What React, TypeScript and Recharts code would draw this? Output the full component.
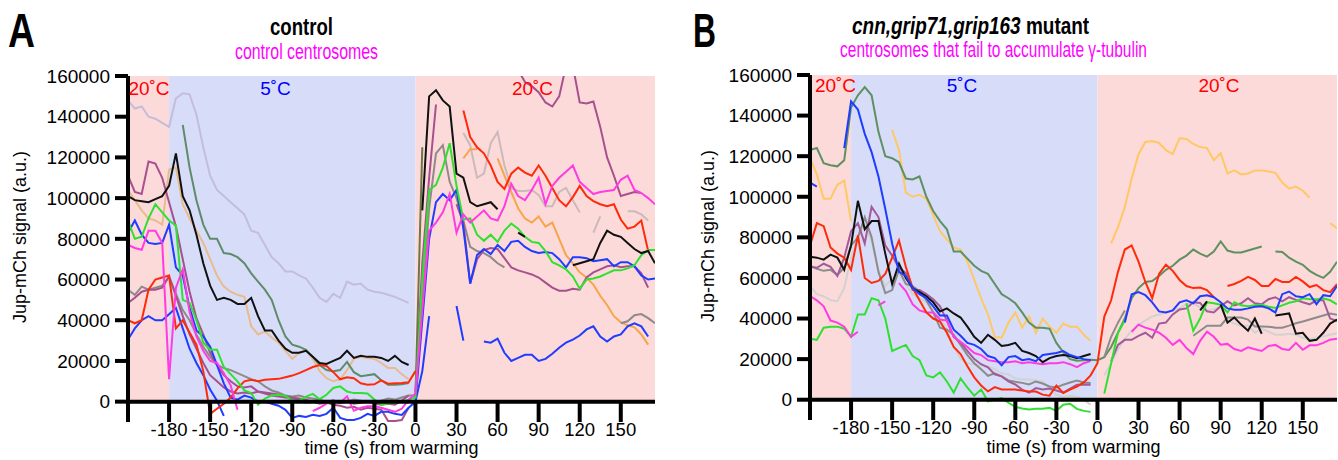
import React from 'react';
import { LineChart, Line, XAxis, YAxis, ReferenceArea, ReferenceLine } from 'recharts';

const STEP = 5;
const X_TICKS = [-180, -150, -120, -90, -60, -30, 0, 30, 60, 90, 120, 150];
const Y_TICKS = [0, 20000, 40000, 60000, 80000, 100000, 120000, 140000, 160000];
const X_DOMAIN = [-210, 175];
const Y_DOMAIN = [-10000, 160000];
const PERIODS = [
  { x1: -210, x2: -180, kind: 'warm' },
  { x1: -180, x2: 0, kind: 'cold' },
  { x1: 0, x2: 175, kind: 'warm' },
];

// ---------- Panel A (control) : values every 5 s ----------
const A_lavender = [148000,144000,145000,140000,139000,137000,135000,149000,151500,151000,141000,125000,111000,104000,101000,98000,95000,92000,84000,83000,77000,71000,68000,64000,64000,62000,60500,56000,51000,49000,53000,51000,59000,57500,58000,55000,54000,53500,52500,51500,50000,48500];
const A_blackPre = [101000,99000,98500,98000,99500,101000,106000,122000,101000,94000,82000,68000,57000,50000,51000,50000,48000,48000,51000,42000,35000,35000,30000,26000,24000,24000,25000,22000,19000,18500,20000,21500,25000,21500,22500,22000,22000,21500,20000,22500,19500,18000];
const A_blackPost = [94000,150000,153000,148000,145000,112000,110000,98000,96000,97000,98000,94500,null,null,83000,81000,null,null,null,null,null,null,67000,68000,69000,70000,78000,84000,82000,81000,78000,75000,73000,74000,68000];
const A_darkgreen = [136000,115000,99000,87000,80000,80000,73000,72500,71000,68000,63000,59000,55000,50000,40000,32000,28000,27000,25500,22000,18000,15500,15000,15500,19500,14500,12500,13000,13500,10500,8300,8300,8500,9200];
const A_tan = [104000,99000,94000,90000,89000,87000,114000,115000,97000,90000,84000,78000,70000,62000,56500,54000,52500,51500,37000,33000,34500,31500,29000,25000,21000,24000,25500,21000,15000,11500,10000,11000,15500,21000,22000,21500,21000,19000,16500,16500,13500,11000];
const A_mauve1 = [111000,103000,102000,118000,117000,110000,98000,86000,70000,54000,41000,33000,24000,18000,13000,10000,7500,7000,7500,5000,4500,4000,3500,2500,2000,1500,1000,0,-500,0,500,-500,0,-1000,-500,0,-1000,-1500,-1000,-1500,500,3000];
const A_mauve2 = [48500,51000,54000,55000,55000,56000,61500,52000,42000,33000,26000,19000,13000,10000,7000,5000,4000,4500,4000,5000,4000,3000,2500,2000,1500,1000,-500,0,-1000,-500,-1500,-2000,-3000,-2500,-4000,-3000,-3500,-4000,-9500,-9500,-9000,-3000];
const A_mauveRise = [5000,68000,110000,146000];
const A_mauveTop = [163000,157000,155000,152000,147000,145000,150000,165000,165000,147000,146500,147500,135000,120000,111000,101000,102000,103000,102500];
const A_mauveLow = [97000,88000,58000,70000,74500,75500,75000,70500,66000,64500,63500,62500,61000,58500,56000,54500,54500,55500,55000,61000,63500,65000,66500,67000,66000,66500,66500,63000,56000];
const A_grayPre = [55000,52500,56500,55000,56000,57000,61500,53000,45000,40000,33000,27000,22000,18000,16500,15500,14000,12500,11000,10000,7500,5500,4500,3000,2500,3000,2000,1500,1000,0,500,-500,0,1000,500,0,-500,500,1500,1000,2000,3000];
const A_grayPost = [3000,50000,95000,122000,126000,108000,100000,89000,76000,74000,73000,71000,68000,66000,null,null,null,null,null,null,null,null,null,null,null,null,null,null,null,null,38500,39500,42500,43000,41000,38500];
const A_greenPre = [89000,80000,81000,90000,97000,93000,89000,86500,50000,48500,40000,29000,25500,25500,17000,13500,10000,5500,4200,-1500,1500,3000,3400,2800,500,500,2500,3800,1200,3400,6700,7500,5000,4200,4200,4000,1000,-1500,-900,-500,0,1000];
const A_greenPost = [2000,60000,104000,106500,115000,127000,106000,89500,90000,82000,79000,82000,78500,84000,87500,85000,81000,78500,78000,74000,68500,67000,65000,61500,55500,60000,60500,61500,63000,64500,64500,65500,67000,72000,74500,74500];
const A_blueUpPre = [83000,89000,82000,78000,77500,78000,87000,66000,62000,46000,35000,32000,27000,18000,9000,2000,1000,3000,2000,0,0,-1000,-2000,-4000,-8000,-7000,-7500,-6500,-7000,-6000,-3000,-8000,-9000,-9000,-8000,-6000,-7000,-5000,-5000,-6000,-6500,-3000];
const A_blueUpPost = [0,40000,80000,98000,102000,99000,104000,85000,58000,72000,75000,72500,77000,74000,78500,79000,76000,74000,73000,73500,73000,70000,66000,71000,71000,70500,69000,69500,70000,66500,68500,68500,66500,62000,60000,60500];
const A_blueLowPre = [30500,36000,40000,42000,40000,40000,43000,46000,36000,26000,19000,13000,6000,500,-7000];
const A_blueLowPost = [0,15000,42000,null,null,null,47000,30000,null,null,29500,29000,31000,24000,20000,21500,23000,23000,20000,21000,23500,26500,29000,30500,32500,35500,37000,32000,29500,32000,33000,37000,38500,37000,32000];
const A_redPre = [40000,38500,40000,55000,60000,61000,62000,36000,40000,34000,28000,15000,-6000,-3500,-1000,2000,6500,10000,10800,10000,10800,11000,11200,12000,12800,14000,15500,17000,18000,17500,14500,11000,12000,11500,9000,8300,8500,10500,8800,9000,9200,9500,15000];
const A_redPost = [143000,130000,125000,122000,116000,108000,104500,112000,115000,112500,111000,116000,111000,105000,99000,96000,100500,106000,101000,98500,97000,96000,97000,89500,85000,86000,89000,74000];
const A_magentaPre = [77000,75500,74600,84000,84000,78000,11000,56000,65000,44000,32000,25000,20000,19000,14000,8000,-4000,null,null,null,null,null,null,null,null,null,null,-4700,-3000,-1000,500,-500,2600,-4500,-3000,-2300,-2300,-3000,-4000,-5000,-3500,1000];
const A_magentaPost = [4000,45000,84000,88000,93000,102000,83000,92000,88000,91000,94000,90000,89000,96000,107000,101000,99000,104000,110000,97000,106000,110000,113000,116000,108000,105000,102000,103000,103500,104000,109000,111000,104000,102500,100000,97000];
const A_lightPink = [132000,126000,110000,112000,127000,132500,116000,105000,103500,103500,104000,101500,96000,96000,103000,105000,99000,93000,null,83000,91000,null,null,null,93500,93500,92000,89000];
const A_orange = [119500,124000,124000,null,null,119500,111000,103000,95000,90000,88000,91000,86000,88000,80000,72000,68000,63500,61000,57500,52000,47500,42000,39000,37500,36500,33000,28000];
const A_olive = [2000,125000];

// ---------- Panel B (cnn,grip71,grip163 mutant) ----------
const B_darkgreenPre = [123000,124000,116500,115500,115000,118000,144000,150000,154000,150000,132000,120000,119000,117000,109000,108500,110000,100000,93000,88000,84000,73000,73000,69500,66000,63500,62000,57000,52000,50000,47500,43000,38000,35500,35500,35000,28000,23500,20000,19200,19500,19700];
const B_darkgreenPost = [19500,21000,26000,33000,40000,50000,55000,58000,58500,61000,64000,66000,69000,71000,74000,72000,70500,73000,78000,73500,72500,72500,73500,74500,75500,null,73000,72800,70000,68000,66500,63500,61500,60000,63000,68000];
const B_yellowPre = [119000,111000,99000,99000,106000,108000,88000,null,null,null,null,null,133000,123000,102000,100000,101000,99000,91000,83000,79000,75000,74000,68000,59000,50000,42000,31000,30500,38000,43000,35500,41000,33000,40000,36000,33000,37500,36000,36000,32000,29000];
const B_yellowPost = [77000,85000,95000,109000,121000,127000,127500,126500,123000,121000,128800,128500,126000,124500,124000,118000,121500,111500,113000,111000,111500,113000,113000,112500,111800,107000,104000,105000,103000,99500,null,null,87000,84500];
const B_bluePre = [107000,105000,null,null,null,124000,147000,143000,131000,122000,110000,94000,77000,63000,61000,55000,52000,50000,46000,41500,41500,34500,31500,28000,27000,25000,21500,20500,17000,21000,21500,19500,20000,19000,22000,22500,23000,24000,22000,21000,20000,19500];
const B_bluePost = [38000,52000,53000,51500,48000,43500,43000,44000,48000,49000,47500,51000,51500,50500,48000,45000,44300,44300,45000,45800,46000,45000,43000,52000,53300,51000,50500,52000,47000,51500,51000,56000];
const B_blackPre = [70500,70000,69000,71500,70000,64000,76000,98000,84000,88000,88000,72000,57000,67000,60000,55000,53000,51000,48000,43500,45000,42500,40500,36000,31000,28000,32000,29500,26500,27000,28000,24000,23000,21500,18500,20500,21500,22000,21500,20500,21500,22500];
const B_blackPost = [44000,48500,null,47000,38000,40500,37000,34000,40000,32500,null,41500,42000,42500,32500,33000,29000,29500,33000,37500,39500];
const B_redPre = [76000,87000,85500,75000,72000,70000,64000,81000,60000,57500,58500,62000,70000,78500,65500,55000,49000,43000,40000,38500,33000,26000,22500,16500,11000,7000,4100,6200,5000,5000,5000,4500,4100,4000,2500,2000,7000,3300,5000,6500,8500,12000];
const B_redPost = [18000,41000,49000,63000,74000,76000,68000,58000,50000,62000,66500,63500,59000,56000,55000,55300,54000,50500,null,56000,57000,58500,60500,59000,56000,56000,59500,58000,58000,60500,58300,55500,56500,54000,53000,57000];
const B_magentaPre = [51000,49000,46000,39000,38000,36000,31000,33500,null,null,46500,48500,null,57400,53500,47000,44000,43000,43000,39500,39000,31000,28500,26000,23000,22000,19500,18900,18500,18500,18900,18000,18500,18000,17500,18000,18000,18500,17500,16000,18000,19000];
const B_magentaPost = [33500,37000,35500,34500,33000,30500,27000,29500,25500,22500,29000,33500,31000,27100,27500,25000,24000,25800,24900,24000,26500,27000,25000,24500,28000,24600,26800,26800,28000,29600,30000];
const B_greenPre = [30000,29500,35500,36000,36000,35000,31000,42000,42000,50000,49000,40000,24000,25500,27000,21500,19500,12000,11000,13500,9000,3500,10500,6000,2000,5000,-800,0,800,-1500,-3500,-4300,-4800,-4500,-4500,-4000,-5500,-2500,-2000,-4500,-5500,-6000];
const B_greenPost = [null,3000,18000,33000,39000,null,null,null,null,null,null,null,null,47500,34000,40000,48000,47500,46800,43000,48000,46500,46000,46500,46800,45800,45200,46500,47800,48500,50000,49500,49500,50000,49000,47000];
const B_mauvePre = [65500,65000,67000,65500,61000,70000,83000,87000,77000,95000,90000,76000,71000,65000,62500,54000,54000,52000,49500,46000,39000,31000,28000,24000,20000,17500,16000,12500,11500,9000,7500,5000,3500,5700,5000,5500,4500,3500,5500,7400,7500,7400];
const B_mauvePost = [null,null,19000,27000,29500,29500,31500,33000,30500,37500,38000,42000,44500,45000,48000,47700,43500,43000,46000,48500,46500,47500,50000,47500,47000,49500,50500,48500,50500,49200,48000,47000,49000,49000,40000,38800];
const B_grayPre = [66000,64500,63500,64000,61500,65000,76000,80000,90000,80000,63000,52500,54000,64000,57000,56000,53500,49000,43000,35500,34500,32000,27000,22000,18000,15000,11800,13000,11500,9500,8800,8300,7500,9000,8000,6500,6000,7400,8500,9500,8500,8200];
const B_grayPost = [null,21000,31000,38000,44000,null,null,null,null,null,null,null,null,null,31500,34000,36500,36500,36500,40500,40500,40500,39500,36100,36100,36000,35500,35500,36500,37700,38500,39500,40500,41500,42500,41800];
const B_lightgrayPre = [56000,52000,51000,49000,48500,55000,70000,80000,86000,78000,64000,56000,60000,62000,57000,52000,50000,48000,44000,40000,35000,26000,20000,18000,17500,17000,16500,15000,13000,12500,10500,10000,10000,9500,9000,5000,2500,1500,2000,1500,0,-2500];
const B_lightgrayPost = [null,12000,18000,25000,30000,34000,37000,39000,41000,42000,43000,44000,45000,47000,47500,45500,44000,44500,46000,39000,37500,36500,36500,33000,35000,33500,32000,32000,32500,32000,30500,29800,30500,31200,32000,32800];

const COL = {
  black: '#111111',
  lavender: '#c4bdd9',
  darkgreen: '#5e8b6a',
  darkgreenB: '#5f9060',
  tan: '#e9bb8c',
  orange: '#f7a54c',
  yellow: '#ffc864',
  red: '#ff2a0a',
  green: '#30e030',
  blue: '#1f3cff',
  magenta: '#ff3be2',
  mauve: '#a8508e',
  mauveB: '#a35a9a',
  gray: '#8f8a8a',
  grayB: '#8c8c8c',
  lightPink: '#ccb9ba',
  lightgray: '#d2d2d2',
  olive: '#6f7548',
};

type Series = { name: string; color: string; start: number; values: (number | null)[] };

const A_SERIES: Series[] = [
  { name: 'a-lavender', color: COL.lavender, start: -210, values: A_lavender },
  { name: 'a-lightpink', color: COL.lightPink, start: 35, values: A_lightPink },
  { name: 'a-tan', color: COL.tan, start: -210, values: A_tan },
  { name: 'a-orange', color: COL.orange, start: 35, values: A_orange },
  { name: 'a-darkgreen', color: COL.darkgreen, start: -170, values: A_darkgreen },
  { name: 'a-gray', color: COL.gray, start: -210, values: [...A_grayPre, ...A_grayPost] },
  { name: 'a-mauve2', color: COL.mauve, start: -210, values: A_mauve2 },
  { name: 'a-mauve1', color: COL.mauve, start: -210, values: A_mauve1 },
  { name: 'a-mauverise', color: COL.mauve, start: 0, values: A_mauveRise },
  { name: 'a-mauvetop', color: COL.mauve, start: 75, values: A_mauveTop },
  { name: 'a-mauvelow', color: COL.mauve, start: 30, values: A_mauveLow },
  { name: 'a-olive', color: COL.olive, start: 0, values: A_olive },
  { name: 'a-bluelow', color: COL.blue, start: -210, values: A_blueLowPre },
  { name: 'a-bluelowpost', color: COL.blue, start: 0, values: A_blueLowPost },
  { name: 'a-blueup', color: COL.blue, start: -210, values: [...A_blueUpPre, ...A_blueUpPost] },
  { name: 'a-red', color: COL.red, start: -210, values: A_redPre },
  { name: 'a-redpost', color: COL.red, start: 35, values: A_redPost },
  { name: 'a-green', color: COL.green, start: -210, values: [...A_greenPre, ...A_greenPost] },
  { name: 'a-magenta', color: COL.magenta, start: -210, values: [...A_magentaPre, ...A_magentaPost] },
  { name: 'a-black', color: COL.black, start: -210, values: A_blackPre },
  { name: 'a-blackpost', color: COL.black, start: 5, values: A_blackPost },
];

const B_SERIES: Series[] = [
  { name: 'b-lightgray', color: COL.lightgray, start: -210, values: [...B_lightgrayPre, ...B_lightgrayPost] },
  { name: 'b-yellow', color: COL.yellow, start: -210, values: B_yellowPre },
  { name: 'b-yellowpost', color: COL.yellow, start: 10, values: B_yellowPost },
  { name: 'b-darkgreen', color: COL.darkgreenB, start: -210, values: [...B_darkgreenPre, ...B_darkgreenPost] },
  { name: 'b-gray', color: COL.grayB, start: -210, values: [...B_grayPre, ...B_grayPost] },
  { name: 'b-mauve', color: COL.mauveB, start: -210, values: [...B_mauvePre, ...B_mauvePost] },
  { name: 'b-green', color: COL.green, start: -210, values: [...B_greenPre, ...B_greenPost] },
  { name: 'b-magenta', color: COL.magenta, start: -210, values: B_magentaPre },
  { name: 'b-magentapost', color: COL.magenta, start: 25, values: B_magentaPost },
  { name: 'b-red', color: COL.red, start: -210, values: [...B_redPre, ...B_redPost] },
  { name: 'b-black', color: COL.black, start: -210, values: B_blackPre },
  { name: 'b-blackpost', color: COL.black, start: 75, values: B_blackPost },
  { name: 'b-blue', color: COL.blue, start: -210, values: B_bluePre },
  { name: 'b-bluepost', color: COL.blue, start: 20, values: B_bluePost },
];

const FONT = '"Liberation Sans", Arial, Helvetica, sans-serif';
const WARM = '#fcdada';
const COLD = '#d7ddf9';

const toData = (s: Series) => s.values.map((v, i) => ({ t: s.start + i * STEP, v }));

function Panel({ series, width, margin }: { series: Series[]; width: number; margin: any }) {
  return (
    <LineChart width={width} height={460} margin={margin}>
      {PERIODS.map((p, i) => (
        <ReferenceArea
          key={'p' + i}
          x1={p.x1}
          x2={p.x2}
          y1={0}
          y2={160000}
          fill={p.kind === 'warm' ? WARM : COLD}
          fillOpacity={1}
          stroke="none"
        />
      ))}
      <XAxis
        type="number"
        dataKey="t"
        domain={X_DOMAIN}
        ticks={X_TICKS}
        interval={0}
        allowDataOverflow
        axisLine={false}
        tickLine={false}
        tickSize={0}
        tickMargin={1}
        height={30}
        tick={{ fill: '#000', fontSize: 18.5, fontFamily: FONT }}
      />
      <YAxis
        type="number"
        domain={Y_DOMAIN}
        ticks={Y_TICKS}
        interval={0}
        allowDataOverflow
        width={60}
        axisLine={{ stroke: '#000', strokeWidth: 4 }}
        tickLine={{ stroke: '#000', strokeWidth: 4 }}
        tickSize={13}
        tickMargin={5}
        tick={{ fill: '#000', fontSize: 19, fontFamily: FONT }}
      />
      {series.map((s) => (
        <Line
          key={s.name}
          data={toData(s)}
          dataKey="v"
          stroke={s.color}
          strokeWidth={2}
          dot={false}
          activeDot={false}
          connectNulls={false}
          isAnimationActive={false}
        />
      ))}
      <ReferenceLine y={0} stroke="#000" strokeWidth={4} />
      {X_TICKS.map((t) => (
        <ReferenceLine
          key={'tk' + t}
          segment={[{ x: t, y: 0 }, { x: t, y: -10000 }]}
          stroke="#000"
          strokeWidth={4}
        />
      ))}
    </LineChart>
  );
}

export default function App() {
  return (
    <div style={{ position: 'absolute', left: 0, top: 0, width: 1338, height: 460, background: '#fff', overflow: 'hidden' }}>
      <div style={{ position: 'absolute', left: 0, top: 0 }}>
        <Panel series={A_SERIES} width={670} margin={{ top: 76, right: 15, bottom: 8, left: 68 }} />
      </div>
      <div style={{ position: 'absolute', left: 670, top: 0 }}>
        <Panel series={B_SERIES} width={668} margin={{ top: 75, right: 1, bottom: 10, left: 80 }} />
      </div>
      <svg width={1338} height={460} style={{ position: 'absolute', left: 0, top: 0, pointerEvents: 'none' }} fontFamily={FONT}>
        <text x={8} y={47} fontSize={48} fontWeight="bold" textLength={27} lengthAdjust="spacingAndGlyphs">A</text>
        <text x={693} y={47} fontSize={48} fontWeight="bold" textLength={23} lengthAdjust="spacingAndGlyphs">B</text>
        <text x={270} y={35} fontSize={23.5} fontWeight="bold" textLength={63} lengthAdjust="spacingAndGlyphs">control</text>
        <text x={235} y={59} fontSize={22.5} fill="#ff00ff" textLength={143} lengthAdjust="spacingAndGlyphs">control centrosomes</text>
        <g transform="translate(852 34) scale(0.825 1)">
          <text x={0} y={0} fontSize={23} fontWeight="bold">
            <tspan fontStyle="italic">cnn,grip71,grip163</tspan>
            <tspan> mutant</tspan>
          </text>
        </g>
        <text x={840} y={57} fontSize={21.5} fill="#ff00ff" textLength={307} lengthAdjust="spacingAndGlyphs">centrosomes that fail to accumulate γ-tubulin</text>

        <text x={149} y={95} fontSize={19} fill="#ff0000" textAnchor="middle">20˚C</text>
        <text x={275.5} y={95} fontSize={19} fill="#0000ff" textAnchor="middle">5˚C</text>
        <text x={532.5} y={95} fontSize={19} fill="#ff0000" textAnchor="middle">20˚C</text>
        <text x={835.5} y={92} fontSize={19} fill="#ff0000" textAnchor="middle">20˚C</text>
        <text x={962} y={92} fontSize={19} fill="#0000ff" textAnchor="middle">5˚C</text>
        <text x={1219} y={92} fontSize={19} fill="#ff0000" textAnchor="middle">20˚C</text>

        <text x={26} y={237} fontSize={18} textAnchor="middle" transform="rotate(-90 26 237)">Jup-mCh signal (a.u.)</text>
        <text x={714} y={236} fontSize={18} textAnchor="middle" transform="rotate(-90 714 236)">Jup-mCh signal (a.u.)</text>
        <text x={391.5} y={454} fontSize={18} textAnchor="middle">time (s) from warming</text>
        <text x={1073.5} y={453} fontSize={18} textAnchor="middle">time (s) from warming</text>
      </svg>
    </div>
  );
}
